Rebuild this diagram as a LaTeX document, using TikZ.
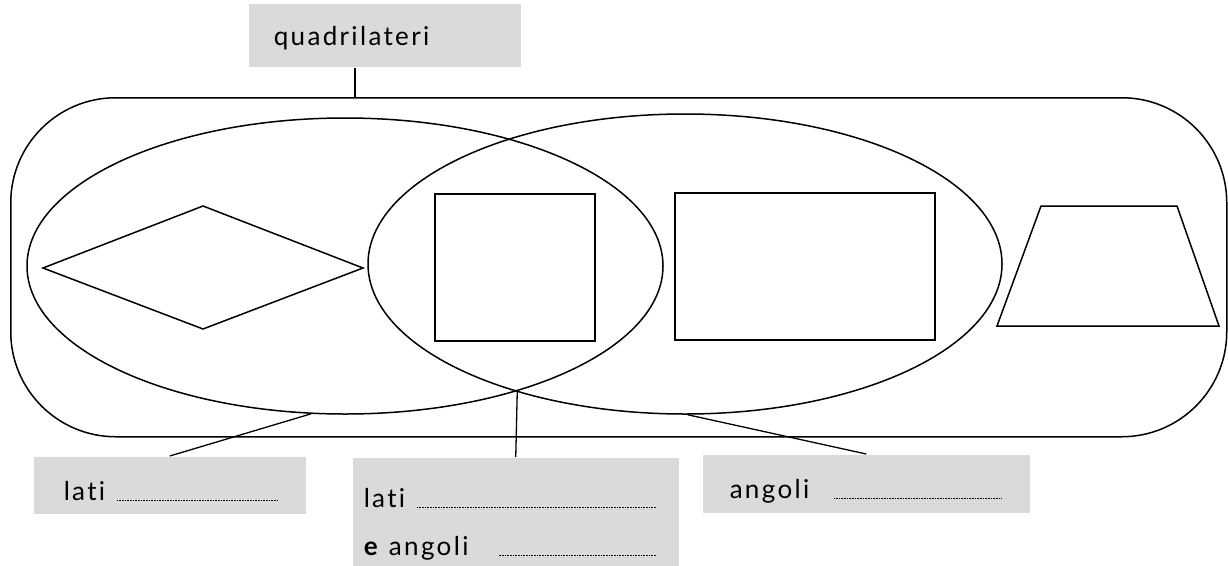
\documentclass[tikz,border=0pt]{standalone}
\usepackage{fontspec}
\setmainfont{Lato}[LetterSpace=9, Ligatures=NoCommon]
\usetikzlibrary{shapes.geometric}
\definecolor{tagfill}{HTML}{DADADA}
\newcommand\dotline[1]{\leaders\hbox to 1.6pt{\hss\rule{0.7pt}{0.7pt}\hss}\hskip #1\relax\kern0pt}

\begin{document}
\begin{tikzpicture}[
    x=1pt, y=-1pt,
    line width=1.5pt,
    tag/.style={fill=tagfill, anchor=north west, inner ysep=0pt, font=\fontsize{26}{48}\selectfont},
    set/.style={ellipse, draw, inner sep=0pt},
    figure/.style={draw, line join=miter},
    link/.style={line width=1.3pt},
  ]
    \useasboundingbox (0,0) rectangle (1228,565);

    \node[tag, inner xsep=25pt, text height=42pt, text depth=21pt] (quad) at (248,3) {\makebox[222pt][l]{quadrilateri}};
    \node[draw, rounded corners=105pt, minimum width=1216pt, minimum height=339pt, anchor=north west, inner sep=0pt] (frame) at (10,97) {};

    \node[set, minimum width=636pt, minimum height=296pt] (lset) at (345,266) {};
    \node[set, minimum width=634pt, minimum height=300pt] (rset) at (685,264) {};

    \draw[figure] (43,268) -- (203,206) -- (363,268) -- (203,329) -- cycle;
    \draw[figure] (435,194) rectangle (595,341);
    \draw[figure] (675,193) rectangle (935,340);
    \draw[figure] (1041,206) -- (1177,206) -- (1219,326) -- (997,326) -- cycle;

    \node[tag, inner xsep=30pt, text height=44pt, text depth=13pt] (sides) at (33,456) {\makebox[212pt][l]{\makebox[52pt][l]{lati}\dotline{163pt}}};
    \node[tag, inner xsep=11pt, text height=50pt, text depth=58pt] (both) at (352,457) {\parbox[t]{304pt}{\makebox[52pt][l]{lati}\dotline{242pt}\\ \makebox[134pt][l]{\textbf{e} angoli}\dotline{160pt}}};
    \node[tag, inner xsep=27pt, text height=44pt, text depth=14pt] (angles) at (702,454) {\makebox[273pt][l]{\makebox[103pt][l]{angoli}\dotline{170pt}}};

    \coordinate (hook) at (355,0);
    \draw[link] (hook |- quad.south) -- (hook |- frame.north);
    \draw[link] (sides.north) -- (lset.-103);
    \draw[link] (both.north) -- (lset.-36.3);
    \draw[link] (angles.north) -- (rset.-89);
  \end{tikzpicture}
\end{document}
